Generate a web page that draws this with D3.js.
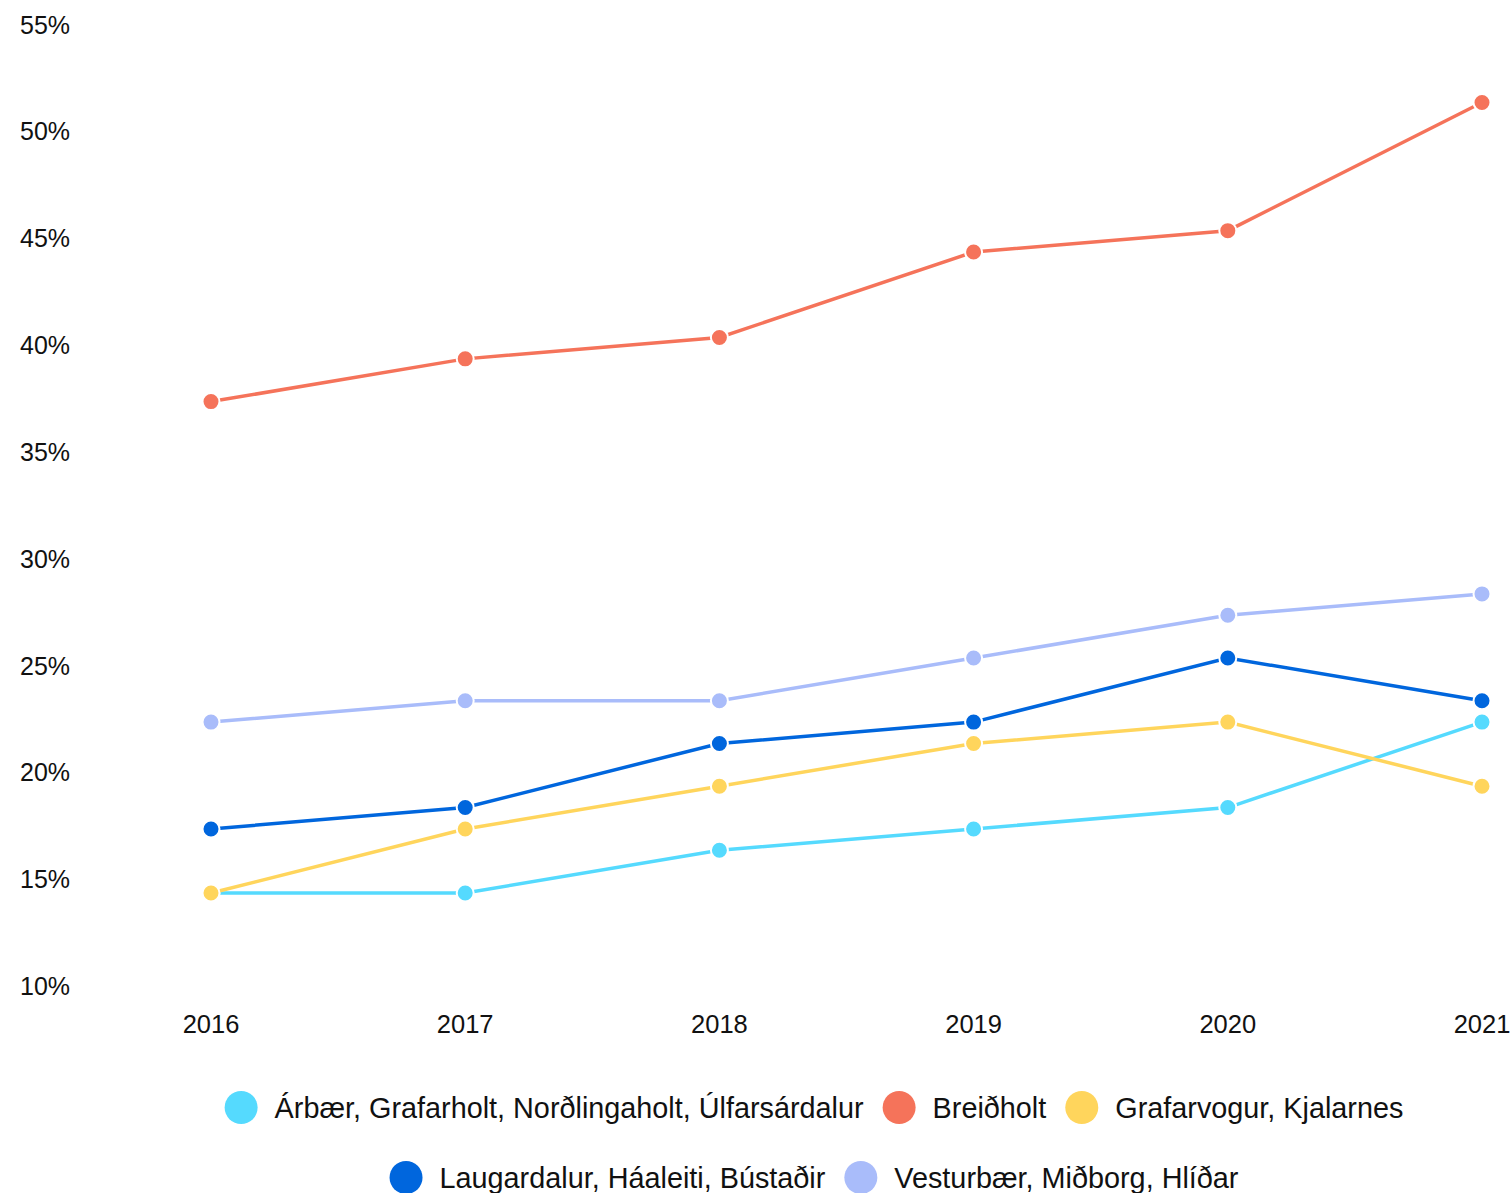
<!DOCTYPE html>
<html>
<head>
<meta charset="utf-8">
<script src="https://cdn.jsdelivr.net/npm/d3@7"></script>
<style>
  body { margin: 0; background: #fff; }
  text { font-family: "Liberation Sans", Arial, sans-serif; fill: #111; }
</style>
</head>
<body>
<div id="chart"></div>
<script>
const years = [2016, 2017, 2018, 2019, 2020, 2021];
const seriesNames = [
    "Árbær, Grafarholt, Norðlingaholt, Úlfarsárdalur",
    "Breiðholt",
    "Grafarvogur, Kjalarnes",
    "Laugardalur, Háaleiti, Bústaðir",
    "Vesturbær, Miðborg, Hlíðar"
];
const arbaer      = [14, 14, 16, 17, 18, 22];
const breidholt   = [37, 39, 40, 44, 45, 51];
const grafarvogur = [14, 17, 19, 21, 22, 19];
const laugardalur = [17, 18, 21, 22, 25, 23];
const vesturbaer  = [22, 23, 23, 25, 27, 28];
const yTicks = [10, 15, 20, 25, 30, 35, 40, 45, 50, 55];
const colors = ["#55DAFE", "#F5735A", "#FFD55C", "#0066DD", "#A9BCFA"];

const allSeries = [arbaer, breidholt, grafarvogur, laugardalur, vesturbaer];

const w = 1511;
const h = 1193;

let svg = d3.select("#chart").append("svg")
    .attr("width", w)
    .attr("height", h);

let xScale = d3.scalePoint()
    .domain(years)
    .range([211, 1482]);

let yScale = d3.scaleLinear()
    .domain([10, 55])
    .range([978.5, 17]);

// y labels, no axis line
svg.append("g").selectAll("text").data(yTicks).enter().append("text")
    .attr("x", 20)
    .attr("y", d => yScale(d) + 16.5)
    .attr("font-size", "25px")
    .text(d => d + "%");

// x labels
svg.append("g").selectAll("text").data(years).enter().append("text")
    .attr("x", d => xScale(d))
    .attr("y", 1033)
    .attr("text-anchor", "middle")
    .attr("font-size", "25.5px")
    .text(d => d);

const line = d3.line()
    .x((d, i) => xScale(years[i]))
    .y(d => yScale(d));

allSeries.forEach((vals, k) => {
    let g = svg.append("g");
    g.append("path")
        .datum(vals)
        .attr("d", line)
        .attr("fill", "none")
        .attr("stroke", colors[k])
        .attr("stroke-width", 3.5);
    g.selectAll("circle").data(vals).enter().append("circle")
        .attr("cx", (d, i) => xScale(years[i]))
        .attr("cy", d => yScale(d))
        .attr("r", 8.5)
        .attr("fill", colors[k])
        .attr("stroke", "#fff")
        .attr("stroke-width", 2);
});

// legend, wrapped and centred
const legendFont = 28.8;
const r = 16.5;
const gapAfterDot = 17;
const gapItems = 19;
const maxRow = 1400;
const rowY = [1107.5, 1177.5];

let legend = svg.append("g");
let items = seriesNames.map((name, k) => {
    let g = legend.append("g");
    g.append("circle").attr("r", r).attr("fill", colors[k]);
    let t = g.append("text")
        .attr("x", r + gapAfterDot)
        .attr("y", 10)
        .attr("font-size", legendFont + "px")
        .text(name);
    let width = 2 * r + gapAfterDot + t.node().getComputedTextLength();
    return {g: g, width: width};
});

let rows = [[]];
let cur = 0;
items.forEach(it => {
    let add = (rows[rows.length - 1].length ? gapItems : 0) + it.width;
    if (cur + add > maxRow && rows[rows.length - 1].length) {
        rows.push([]);
        cur = 0;
        add = it.width;
    }
    rows[rows.length - 1].push(it);
    cur += add;
});

const legendCenter = 814;
rows.forEach((row, ri) => {
    let total = d3.sum(row, d => d.width) + gapItems * (row.length - 1);
    let x = legendCenter - total / 2;
    row.forEach(it => {
        it.g.attr("transform", "translate(" + (x + r) + "," + rowY[ri] + ")");
        x += it.width + gapItems;
    });
});
</script>
</body>
</html>
